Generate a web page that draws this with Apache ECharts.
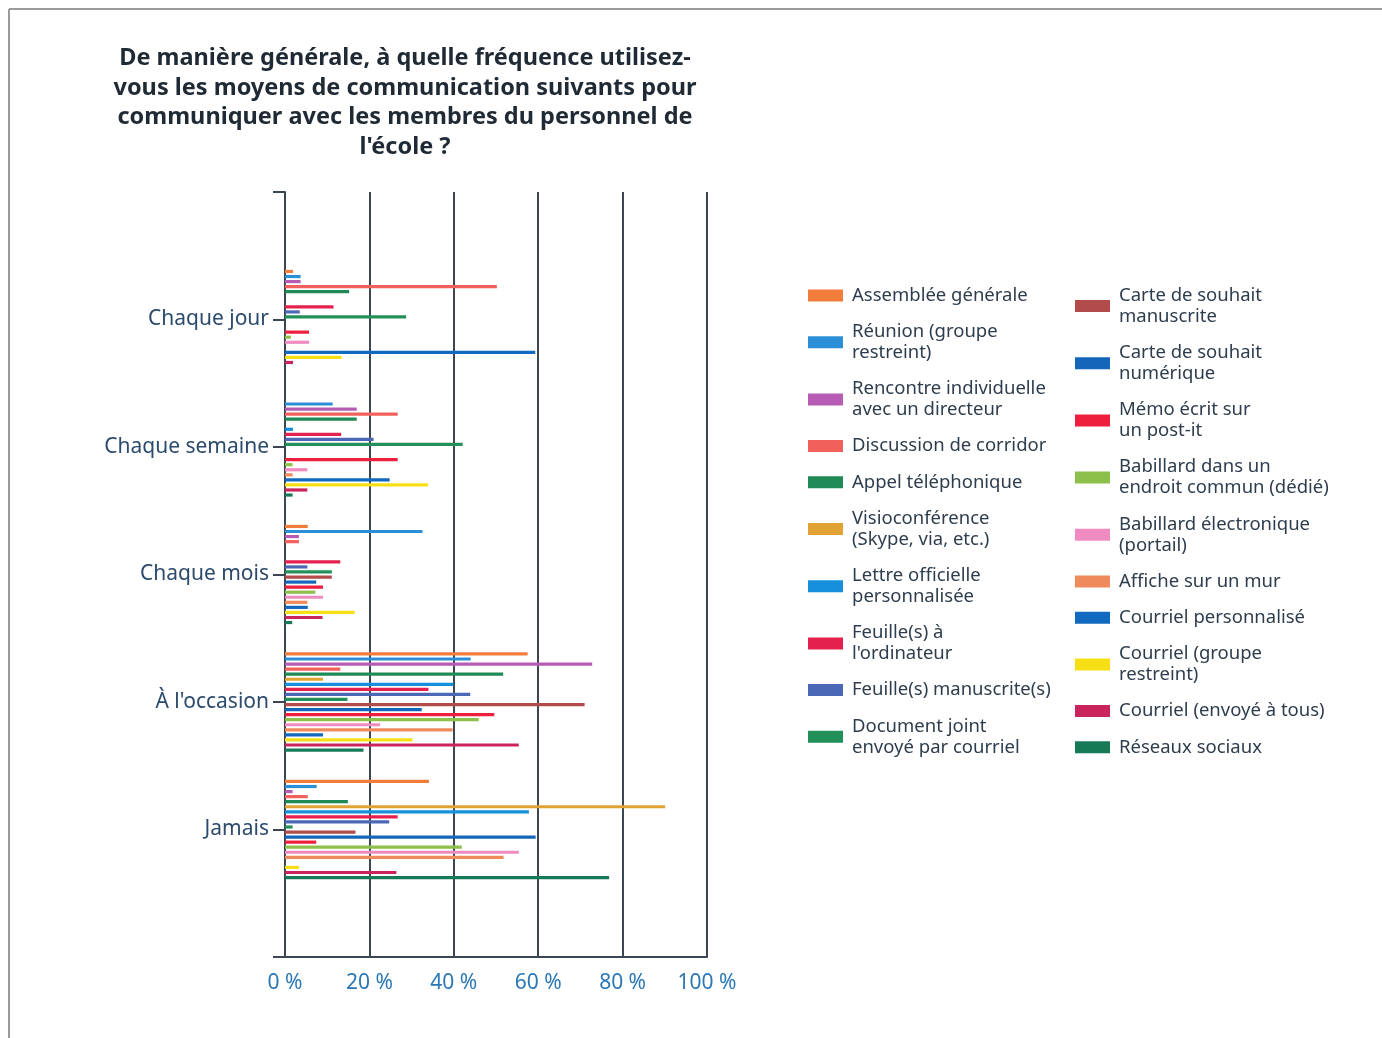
<!DOCTYPE html>
<html>
<head>
<meta charset="utf-8">
<script src="https://cdn.jsdelivr.net/npm/echarts@6/dist/echarts.min.js"></script>
<style>
  html, body { margin: 0; padding: 0; background: #fff; }
  #main { width: 1382px; height: 1038px; }
</style>
</head>
<body>
<div id="main"></div>
<script>
// catégories (axe vertical)
let categories = ['Chaque jour', 'Chaque semaine', 'Chaque mois', "À l'occasion", 'Jamais'];
let xTicks = ['0 %', '20 %', '40 %', '60 %', '80 %', '100 %'];

// moyens de communication
let seriesNames = [
  'Assemblée générale', 'Réunion (groupe restreint)', 'Rencontre individuelle avec un directeur',
  'Discussion de corridor', 'Appel téléphonique', 'Visioconférence (Skype, via, etc.)',
  'Lettre officielle personnalisée', "Feuille(s) à l'ordinateur", 'Feuille(s) manuscrite(s)',
  'Document joint envoyé par courriel', 'Carte de souhait manuscrite', 'Carte de souhait numérique',
  'Mémo écrit sur un post-it', 'Babillard dans un endroit commun (dédié)', 'Babillard électronique (portail)',
  'Affiche sur un mur', 'Courriel personnalisé', 'Courriel (groupe restreint)',
  'Courriel (envoyé à tous)', 'Réseaux sociaux'
];
let legendLabels = [
  'Assemblée générale', 'Réunion (groupe\nrestreint)', 'Rencontre individuelle\navec un directeur',
  'Discussion de corridor', 'Appel téléphonique', 'Visioconférence\n(Skype, via, etc.)',
  'Lettre officielle\npersonnalisée', "Feuille(s) à\nl'ordinateur", 'Feuille(s) manuscrite(s)',
  'Document joint\nenvoyé par courriel', 'Carte de souhait\nmanuscrite', 'Carte de souhait\nnumérique',
  'Mémo écrit sur\nun post-it', 'Babillard dans un\nendroit commun (dédié)', 'Babillard électronique\n(portail)',
  'Affiche sur un mur', 'Courriel personnalisé', 'Courriel (groupe\nrestreint)',
  'Courriel (envoyé à tous)', 'Réseaux sociaux'
];
let colors = [
  '#f27d3a', '#2b8fd8', '#b75cb4', '#f2605c', '#1f8a56', '#e0a233', '#1690dc',
  '#e3204e', '#4b68b6', '#23905a', '#b24c4a', '#1466ba', '#ee1e3d', '#8cc04b',
  '#ef8bc0', '#ef8a5c', '#116abf', '#f6e015', '#c9255c', '#167a57'
];

// pourcentages, dans l'ordre des séries
let jour     = [1.9, 3.7, 3.7, 50.2, 15.2, 0, 0, 11.5, 3.5, 28.7, 0, 0, 5.7, 1.4, 5.7, 0, 59.3, 13.4, 1.9, 0];
let semaine  = [0, 11.3, 17.0, 26.7, 17.0, 0, 1.9, 13.3, 21.0, 42.1, 0, 0, 26.7, 1.8, 5.3, 1.8, 24.8, 33.9, 5.3, 1.8];
let mois     = [5.4, 32.6, 3.3, 3.3, 0, 0, 0, 13.1, 5.3, 11.1, 11.1, 7.4, 9.0, 7.2, 9.0, 5.3, 5.4, 16.5, 8.9, 1.7];
let occasion = [57.5, 44.0, 72.8, 13.1, 51.7, 9, 39.9, 34.0, 43.9, 14.8, 71.0, 32.4, 49.6, 45.9, 22.5, 39.7, 9.0, 30.2, 55.4, 18.6];
let jamais   = [34.1, 7.5, 1.8, 5.4, 14.9, 90.1, 57.8, 26.7, 24.7, 1.8, 16.7, 59.4, 7.4, 41.9, 55.4, 51.8, 0, 3.3, 26.4, 76.8];

let axisDark = '#3a4652';
let font = 'Noto Sans';

let series = seriesNames.map(function (name, i) {
  return {
    name: name,
    type: 'bar',
    barWidth: 3.2,
    barGap: '58%',
    itemStyle: { color: colors[i] },
    // une case vide en haut et en bas de l'axe
    data: [null, jour[i], semaine[i], mois[i], occasion[i], jamais[i], null]
  };
});

function legendBlock(names, left) {
  return {
    orient: 'vertical',
    left: left,
    top: 285,
    padding: 0,
    icon: 'rect',
    itemWidth: 35,
    itemHeight: 12,
    itemGap: 15.2,
    selectedMode: false,
    data: names,
    formatter: function (n) { return legendLabels[seriesNames.indexOf(n)]; },
    textStyle: { fontFamily: font, fontSize: 18.5, lineHeight: 21, color: '#2e3d4d', padding: [0, 0, 0, 4] }
  };
}

let myChart = echarts.init(document.getElementById('main'));
let option = {
  backgroundColor: '#fff',
  animation: false,
  title: {
    text: "De manière générale, à quelle fréquence utilisez-\nvous les moyens de communication suivants pour\ncommuniquer avec les membres du personnel de\nl'école ?",
    left: 400,
    top: 39,
    textAlign: 'center',
    textStyle: { fontFamily: font, fontSize: 23.5, fontWeight: 'bold', lineHeight: 29.5, color: '#1f2a35' }
  },
  legend: [
    legendBlock(seriesNames.slice(0, 10), 808),
    legendBlock(seriesNames.slice(10), 1075)
  ],
  grid: { left: 285, top: 192, width: 422, height: 765 },
  xAxis: {
    type: 'value',
    min: 0,
    max: 100,
    interval: 20,
    axisLine: { show: true, lineStyle: { color: axisDark, width: 2 } },
    axisTick: { show: false },
    axisLabel: {
      margin: 16,
      fontFamily: font,
      fontSize: 21,
      color: '#2a77b6',
      formatter: function (v) { return xTicks[v / 20]; }
    },
    splitLine: { show: true, lineStyle: { color: axisDark, width: 2 } }
  },
  yAxis: {
    type: 'category',
    inverse: true,
    boundaryGap: false,
    data: [''].concat(categories, ['']),
    axisLine: { show: true, lineStyle: { color: axisDark, width: 2 } },
    axisTick: { show: true, interval: 0, length: 12, lineStyle: { color: axisDark, width: 2 } },
    axisLabel: { interval: 0, margin: 16, fontFamily: font, fontSize: 21, color: '#2b4a6c' },
    splitLine: { show: false }
  },
  graphic: [
    { type: 'line', shape: { x1: 9, y1: 9, x2: 1382, y2: 9 }, style: { stroke: '#9a9a9a', lineWidth: 2 } },
    { type: 'line', shape: { x1: 9, y1: 9, x2: 9, y2: 1038 }, style: { stroke: '#9a9a9a', lineWidth: 2 } }
  ],
  series: series
};
myChart.setOption(option, true);
</script>
</body>
</html>
